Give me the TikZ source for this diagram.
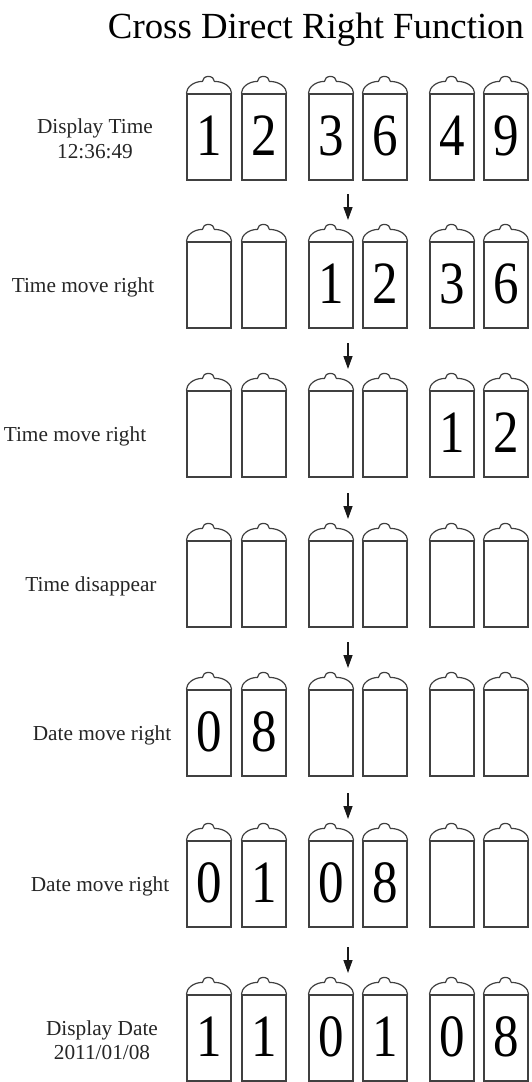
\documentclass[tikz,border=0pt]{standalone}
\usepackage{fontspec}
\setmainfont{Liberation Serif}
\usepackage{tikz}
\usetikzlibrary{positioning,arrows.meta}
\tikzset{
  flowarrow/.style={-{Triangle[length=13pt, width=9pt]}, line width=1.3pt, black!90},
  tubeline/.style={line width=1.2pt, black!75},
  tubebody/.style={draw, tubeline, text=black, inner sep=0pt, minimum width=44pt, minimum height=86pt, font=\fontsize{60}{60}\selectfont},
  rowlabel/.style={align=center, text=black!85, font=\fontsize{21.3}{24.5}\selectfont},
  titlenode/.style={anchor=base, font=\fontsize{36.8}{40}\selectfont}
}
% one nixie tube: name, x, y, digit
\newcommand{\nixie}[4]{%
  \node[tubebody] (#1) at (#2,#3) {\raisebox{3pt}{\scalebox{0.85}[1]{#4}}};
  \draw[tubeline] (#1.north west)
    .. controls ([yshift=6pt]#1.north west) and ([xshift=7pt,yshift=12pt]#1.north west)
    .. ([xshift=16pt,yshift=12pt]#1.north west)
    arc[start angle=180, end angle=0, x radius=6pt, y radius=5pt]
    .. controls ([xshift=-7pt,yshift=12pt]#1.north east) and ([yshift=6pt]#1.north east)
    .. (#1.north east);
}
\begin{document}
\begin{tikzpicture}[x=1pt, y=-1pt]
  \fill[white] (0,0) rectangle (531,1082);
  \useasboundingbox (0,0) rectangle (531,1082);
  \node[titlenode] (title) at (316,38) {Cross Direct Right Function};
  % rows of tubes
  \foreach \r/\ry/\digits in {1/137/{1,2,3,6,4,9}, 2/285/{{},{},1,2,3,6}, 3/434/{{},{},{},{},1,2},
      4/584/{{},{},{},{},{},{}}, 5/733/{0,8,{},{},{},{}}, 6/884/{0,1,0,8,{},{}}, 7/1038/{1,1,0,1,0,8}}{
    \foreach \d [count=\c] in \digits {
      \pgfmathsetmacro{\tx}{{209,264,331,385,452,506}[\c-1]}
      \nixie{t\r\c}{\tx}{\ry}{\d}
    }
  }
  % labels
  \node[rowlabel] (l1) at (95,139) {Display Time\\12:36:49};
  \node[rowlabel] (l2) at (83,287) {Time move right};
  \node[rowlabel] (l3) at (75,436) {Time move right};
  \node[rowlabel] (l4) at (91,586) {Time disappear};
  \node[rowlabel] (l5) at (102,735) {Date move right};
  \node[rowlabel] (l6) at (100,886) {Date move right};
  \node[rowlabel] (l7) at (102,1040) {Display Date\\2011/01/08};
  % arrows between rows
  \foreach \r/\ya/\yb in {1/194/220, 2/343/369, 3/493/519, 4/642/668, 5/793/819, 6/947/973}{
    \coordinate (a\r) at (348,\ya);
    \coordinate (b\r) at (348,\yb);
    \draw[flowarrow] (a\r) -- (b\r);
  }
\end{tikzpicture}
\end{document}
